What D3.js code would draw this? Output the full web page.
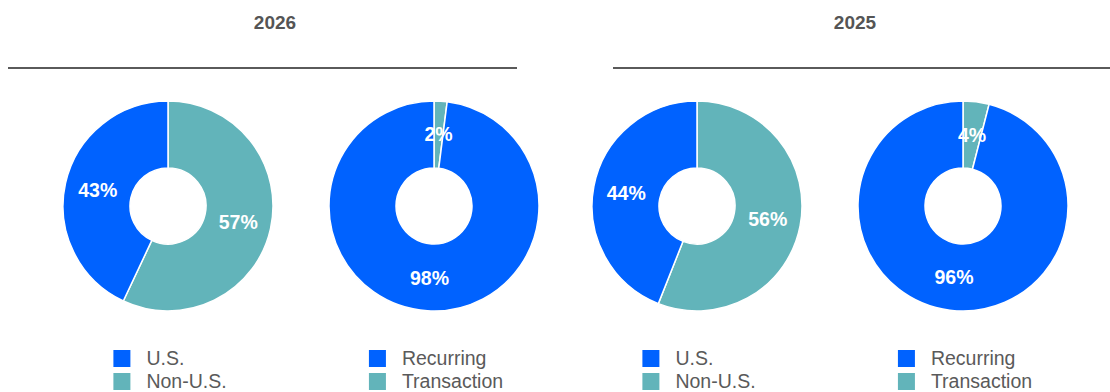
<!DOCTYPE html>
<html>
<head>
<meta charset="utf-8">
<script src="https://cdn.jsdelivr.net/npm/d3@7"></script>
<style>
  html, body { margin: 0; padding: 0; background: #ffffff; }
  svg { display: block; font-family: "Liberation Sans", Arial, sans-serif; }
</style>
</head>
<body>
<svg id="chart" width="1110" height="392"></svg>
<script>
// Revenue mix by year: geography and revenue type
const years = ["2026", "2025"];
const geoCategories = ["Non-U.S.", "U.S."];
const typeCategories = ["Transaction", "Recurring"];
const geoValues2026 = [57, 43];
const typeValues2026 = [2, 98];
const geoValues2025 = [56, 44];
const typeValues2025 = [4, 96];
// Legend order as listed under each donut
const geoLegend = ["U.S.", "Non-U.S."];
const typeLegend = ["Recurring", "Transaction"];

const colour = d3.scaleOrdinal()
  .domain(["U.S.", "Recurring", "Non-U.S.", "Transaction"])
  .range(["#0062ff", "#0062ff", "#62b4ba", "#62b4ba"]);

const svg = d3.select("#chart");

// Panel headers: year title with a rule underneath
const panels = [
  { year: years[0], titleX: 275, x0: 8, x1: 517 },
  { year: years[1], titleX: 855, x0: 613, x1: 1110 }
];
panels.forEach(p => {
  svg.append("text")
    .attr("x", p.titleX).attr("y", 29)
    .attr("text-anchor", "middle")
    .attr("font-size", 19).attr("font-weight", "bold")
    .attr("fill", "#555555")
    .text(p.year);
  svg.append("line")
    .attr("x1", p.x0).attr("x2", p.x1)
    .attr("y1", 68).attr("y2", 68)
    .attr("stroke", "#5a5a5a").attr("stroke-width", 2);
});

const donuts = [
  { cx: 168, cats: geoCategories, values: geoValues2026, legend: geoLegend },
  { cx: 434, cats: typeCategories, values: typeValues2026, legend: typeLegend },
  { cx: 697, cats: geoCategories, values: geoValues2025, legend: geoLegend },
  { cx: 963, cats: typeCategories, values: typeValues2025, legend: typeLegend }
];

const cy = 206, outerR = 105, innerR = 38, labelR = 72;
const pie = d3.pie().sort(null).value(d => d.value);
const arc = d3.arc().innerRadius(innerR).outerRadius(outerR);
const labelArc = d3.arc().innerRadius(labelR).outerRadius(labelR);

donuts.forEach(dn => {
  const data = dn.cats.map((c, i) => ({ cat: c, value: dn.values[i] }));
  const g = svg.append("g").attr("transform", `translate(${dn.cx},${cy})`);
  const arcs = pie(data);

  g.selectAll("path")
    .data(arcs)
    .join("path")
    .attr("d", arc)
    .attr("fill", d => colour(d.data.cat))
    .attr("stroke", "#ffffff")
    .attr("stroke-width", 1.5);

  g.selectAll("text")
    .data(arcs)
    .join("text")
    .attr("transform", d => `translate(${labelArc.centroid(d)})`)
    .attr("text-anchor", "middle")
    .attr("dominant-baseline", "central")
    .attr("font-size", 19.5).attr("font-weight", "bold")
    .attr("fill", "#ffffff")
    .text(d => d.data.value + "%");

  // Legend centred under the donut
  const lg = svg.append("g");
  const rows = lg.selectAll("g")
    .data(dn.legend)
    .join("g")
    .attr("transform", (d, i) => `translate(0,${350 + i * 23})`);
  rows.append("rect")
    .attr("width", 17).attr("height", 17)
    .attr("fill", d => colour(d));
  rows.append("text")
    .attr("x", 33).attr("y", 15)
    .attr("font-size", 19.5)
    .attr("fill", "#5a5a5a")
    .text(d => d);
  const w = lg.node().getBBox().width;
  lg.attr("transform", `translate(${dn.cx - w / 2 + 2},0)`);
});
</script>
</body>
</html>
